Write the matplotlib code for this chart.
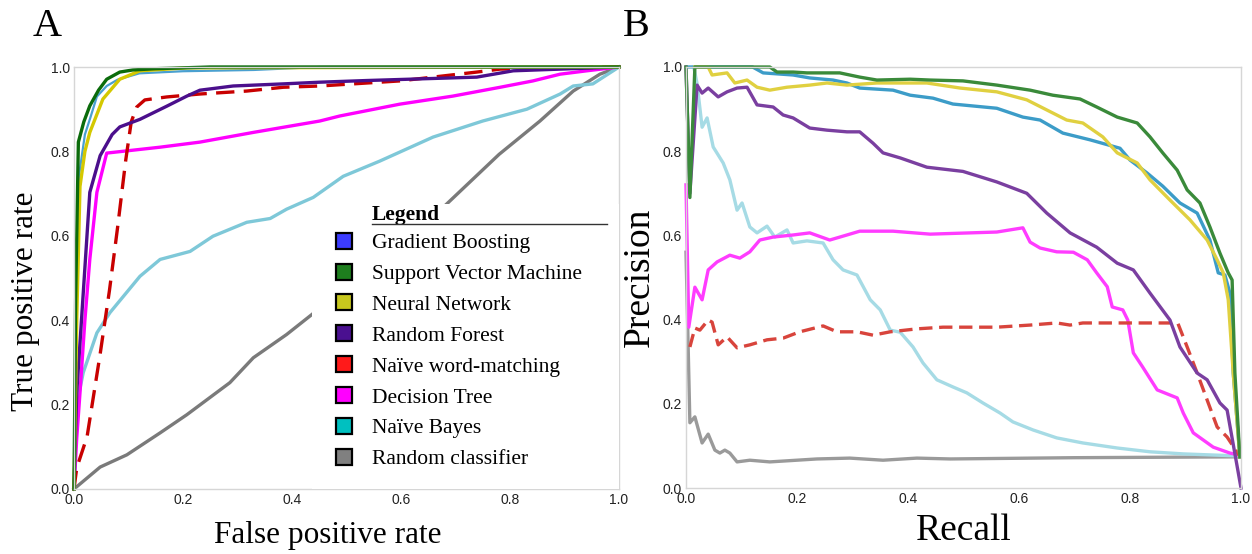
import matplotlib
matplotlib.use("Agg")
import matplotlib.pyplot as plt
from matplotlib.lines import Line2D
from matplotlib.patches import Rectangle

# ---------------- data ----------------
model_names = ["Gradient Boosting", "Support Vector Machine", "Neural Network",
               "Random Forest", "Naïve word-matching", "Decision Tree",
               "Naïve Bayes", "Random classifier"]
legend_colors = ["#3c3cff", "#1e7e1e", "#c8c81e", "#4a1090", "#ff1a1a",
                 "#ff00ff", "#00c0c0", "#808080"]
tick_values = [0.0, 0.2, 0.4, 0.6, 0.8, 1.0]
tick_labels = ["0.0", "0.2", "0.4", "0.6", "0.8", "1.0"]

# Panel A: ROC curves (false positive rate, true positive rate)
gb_fpr = [0, 0.004, 0.01, 0.02, 0.03, 0.042, 0.06, 0.08, 0.12, 0.2, 0.33, 0.45, 1.0]
gb_tpr = [0, 0.5, 0.75, 0.84, 0.88, 0.93, 0.955, 0.97, 0.985, 0.99, 0.993, 1.0, 1.0]
svm_fpr = [0, 0.003, 0.008, 0.018, 0.029, 0.045, 0.06, 0.084, 0.108, 0.15, 0.25, 1.0]
svm_tpr = [0, 0.45, 0.822, 0.87, 0.908, 0.945, 0.971, 0.988, 0.993, 0.996, 1.0, 1.0]
nn_fpr = [0, 0.005, 0.011, 0.02, 0.029, 0.053, 0.084, 0.121, 0.207, 1.0]
nn_tpr = [0, 0.4, 0.717, 0.8, 0.845, 0.924, 0.971, 0.991, 0.998, 1.0]
rf_fpr = [0, 0.005, 0.017, 0.029, 0.048, 0.07, 0.084, 0.121, 0.17, 0.207, 0.231,
          0.292, 0.384, 0.451, 0.538, 0.739, 0.806, 1.0]
rf_tpr = [0, 0.228, 0.465, 0.703, 0.79, 0.84, 0.858, 0.876, 0.907, 0.931, 0.945,
          0.955, 0.96, 0.964, 0.968, 0.976, 0.991, 1.0]
nwm_fpr = [0, 0.005, 0.024, 0.048, 0.065, 0.08, 0.095, 0.105, 0.115, 0.13, 0.17,
           0.231, 0.317, 0.384, 0.451, 0.598, 0.739, 0.782, 1.0]
nwm_tpr = [0, 0.05, 0.124, 0.32, 0.47, 0.62, 0.78, 0.87, 0.905, 0.922, 0.929,
           0.936, 0.943, 0.952, 0.955, 0.967, 0.988, 0.995, 1.0]
dt_fpr = [0, 0.005, 0.011, 0.02, 0.029, 0.042, 0.06, 0.158, 0.231, 0.329, 0.451,
          0.488, 0.598, 0.695, 0.782, 0.842, 0.892, 0.941, 1.0]
dt_tpr = [0, 0.12, 0.228, 0.4, 0.544, 0.703, 0.796, 0.81, 0.822, 0.845, 0.872,
          0.884, 0.912, 0.931, 0.952, 0.967, 0.983, 0.991, 1.0]
nb_fpr = [0, 0.005, 0.017, 0.042, 0.066, 0.121, 0.158, 0.213, 0.255, 0.317, 0.36,
          0.39, 0.439, 0.494, 0.561, 0.659, 0.75, 0.831, 0.892, 0.916, 0.952, 1.0]
nb_tpr = [0, 0.2, 0.276, 0.37, 0.418, 0.504, 0.544, 0.563, 0.599, 0.632, 0.641,
          0.663, 0.691, 0.741, 0.777, 0.834, 0.872, 0.9, 0.936, 0.955, 0.96, 1.0]
rand_fpr = [0, 0.048, 0.097, 0.158, 0.207, 0.286, 0.329, 0.39, 0.436, 0.677,
            0.78, 0.855, 0.916, 0.965, 1.0]
rand_tpr = [0, 0.052, 0.081, 0.133, 0.176, 0.252, 0.311, 0.366, 0.413, 0.667,
            0.793, 0.872, 0.943, 0.983, 1.0]

# Panel B: precision-recall curves (recall, precision)
gb_rec = [0.005, 0.12, 0.139, 0.193, 0.223, 0.265, 0.29, 0.313, 0.373, 0.404, 0.445,
          0.481, 0.56, 0.607, 0.638, 0.679, 0.728, 0.782, 0.8, 0.831, 0.859, 0.89,
          0.921, 0.944, 0.959, 0.971, 0.98, 0.986, 0.998]
gb_prec = [1.0, 1.0, 0.986, 0.981, 0.974, 0.969, 0.962, 0.95, 0.945, 0.933, 0.926,
           0.912, 0.902, 0.881, 0.874, 0.843, 0.827, 0.807, 0.779, 0.748, 0.717, 0.677,
           0.653, 0.589, 0.511, 0.506, 0.463, 0.273, 0.074]
svm_rec = [0.0, 0.007, 0.016, 0.151, 0.164, 0.193, 0.218, 0.277, 0.313, 0.344, 0.404,
           0.44, 0.499, 0.56, 0.62, 0.661, 0.71, 0.74, 0.777, 0.813, 0.836, 0.859,
           0.885, 0.903, 0.926, 0.944, 0.962, 0.977, 0.984, 0.989, 0.998]
svm_prec = [1.0, 0.69, 1.0, 1.0, 0.988, 0.988, 0.986, 0.986, 0.976, 0.969, 0.971,
            0.969, 0.967, 0.957, 0.945, 0.933, 0.924, 0.905, 0.881, 0.867, 0.834, 0.796,
            0.755, 0.708, 0.677, 0.62, 0.558, 0.511, 0.494, 0.273, 0.074]
nn_rec = [0.016, 0.04, 0.047, 0.074, 0.088, 0.11, 0.128, 0.151, 0.182, 0.223, 0.254,
          0.29, 0.344, 0.434, 0.494, 0.56, 0.614, 0.65, 0.686, 0.715, 0.751, 0.777,
          0.813, 0.836, 0.872, 0.908, 0.939, 0.957, 0.968, 0.977, 0.986, 0.998]
nn_prec = [1.0, 1.0, 0.981, 0.986, 0.962, 0.969, 0.952, 0.945, 0.952, 0.957, 0.962,
           0.957, 0.962, 0.962, 0.95, 0.941, 0.922, 0.898, 0.874, 0.867, 0.834, 0.796,
           0.772, 0.732, 0.684, 0.637, 0.589, 0.542, 0.511, 0.447, 0.273, 0.074]
rf_rec = [0.0, 0.007, 0.02, 0.029, 0.04, 0.058, 0.074, 0.092, 0.11, 0.128, 0.157,
          0.175, 0.193, 0.223, 0.254, 0.29, 0.313, 0.337, 0.355, 0.386, 0.434, 0.499,
          0.56, 0.614, 0.65, 0.692, 0.74, 0.777, 0.806, 0.836, 0.872, 0.89, 0.921,
          0.939, 0.962, 0.975, 1.0]
rf_prec = [1.0, 0.70, 0.957, 0.938, 0.95, 0.929, 0.941, 0.95, 0.952, 0.91, 0.905,
           0.886, 0.879, 0.855, 0.85, 0.846, 0.846, 0.819, 0.796, 0.784, 0.762, 0.752,
           0.727, 0.70, 0.653, 0.606, 0.572, 0.534, 0.518, 0.463, 0.399, 0.335, 0.273,
           0.257, 0.202, 0.185, 0.0]
nwm_rec = [0.007, 0.016, 0.025, 0.04, 0.047, 0.058, 0.074, 0.092, 0.115, 0.146, 0.175,
           0.205, 0.247, 0.272, 0.308, 0.337, 0.368, 0.416, 0.463, 0.56, 0.62, 0.668,
           0.692, 0.715, 0.777, 0.886, 0.903, 0.921, 0.939, 0.957, 0.975, 0.998]
nwm_prec = [0.335, 0.38, 0.375, 0.399, 0.394, 0.34, 0.359, 0.333, 0.34, 0.352, 0.356,
            0.371, 0.385, 0.371, 0.371, 0.363, 0.371, 0.378, 0.382, 0.382, 0.387, 0.392,
            0.387, 0.392, 0.392, 0.392, 0.335, 0.273, 0.209, 0.145, 0.121, 0.075]
dt_rec = [0.0, 0.005, 0.016, 0.029, 0.04, 0.056, 0.079, 0.097, 0.115, 0.133, 0.157,
          0.193, 0.223, 0.259, 0.29, 0.313, 0.373, 0.44, 0.56, 0.607, 0.62, 0.638,
          0.668, 0.698, 0.723, 0.74, 0.759, 0.768, 0.787, 0.796, 0.806, 0.823, 0.849,
          0.885, 0.896, 0.914, 0.932, 0.95, 0.98, 0.998]
dt_prec = [0.72, 0.382, 0.477, 0.447, 0.518, 0.537, 0.553, 0.546, 0.561, 0.589, 0.596,
           0.601, 0.606, 0.589, 0.601, 0.61, 0.61, 0.603, 0.608, 0.618, 0.584, 0.57,
           0.561, 0.56, 0.542, 0.511, 0.478, 0.43, 0.423, 0.399, 0.321, 0.287, 0.233,
           0.214, 0.178, 0.131, 0.114, 0.097, 0.083, 0.078]
nb_rec = [0.014, 0.02, 0.029, 0.038, 0.049, 0.067, 0.079, 0.092, 0.101, 0.115, 0.128,
          0.146, 0.16, 0.182, 0.193, 0.218, 0.247, 0.265, 0.283, 0.308, 0.332, 0.35,
          0.368, 0.386, 0.409, 0.427, 0.452, 0.481, 0.506, 0.535, 0.566, 0.589, 0.625,
          0.668, 0.715, 0.777, 0.836, 0.896, 0.957, 0.998]
nb_prec = [1.0, 0.96, 0.857, 0.879, 0.81, 0.772, 0.732, 0.66, 0.677, 0.62, 0.606,
           0.622, 0.596, 0.613, 0.582, 0.587, 0.582, 0.542, 0.518, 0.506, 0.447, 0.423,
           0.375, 0.37, 0.335, 0.297, 0.257, 0.24, 0.226, 0.202, 0.178, 0.157, 0.138,
           0.119, 0.107, 0.095, 0.086, 0.081, 0.078, 0.076]
rand_rec = [0.0, 0.007, 0.016, 0.029, 0.04, 0.052, 0.061, 0.07, 0.079, 0.092, 0.115,
            0.151, 0.236, 0.295, 0.355, 0.416, 0.476, 0.7, 0.998]
rand_prec = [0.56, 0.155, 0.169, 0.107, 0.128, 0.09, 0.083, 0.09, 0.083, 0.062, 0.066,
             0.062, 0.069, 0.071, 0.066, 0.071, 0.069, 0.072, 0.074]

# ---------------- style ----------------
colors_a = {"rand": "#7a7a7a", "nb": "#7ec8d8", "dt": "#ff00ff", "nwm": "#c80000",
            "rf": "#4b0f8c", "gb": "#4aa0d0", "nn": "#d4c800", "svm": "#0b6b0b"}
colors_b = {"rand": "#9a9a9a", "nb": "#a6dbe5", "dt": "#ff3cff", "nwm": "#d8443c",
            "rf": "#7a3fa0", "gb": "#3c9cc8", "nn": "#e0d040", "svm": "#3a8a3a"}

serif = ["Liberation Serif", "DejaVu Serif"]
sans = ["Liberation Sans", "DejaVu Sans"]

fig = plt.figure(figsize=(12.52, 5.54), dpi=100)
ax_a = fig.add_axes([74 / 1252, 1 - 489 / 554, 545 / 1252, 422 / 554])
ax_b = fig.add_axes([686 / 1252, 1 - 488 / 554, 555 / 1252, 421 / 554])


def style_axes(ax):
    ax.set_xlim(0, 1)
    ax.set_ylim(0, 1)
    ax.set_xticks(tick_values)
    ax.set_yticks(tick_values)
    ax.set_xticklabels(tick_labels, family=sans, fontsize=10, color="#222222")
    ax.set_yticklabels(tick_labels, family=sans, fontsize=10, color="#222222")
    ax.tick_params(length=0, pad=3)
    for s in ax.spines.values():
        s.set_color("#d6d6d6")
        s.set_linewidth(1.0)


lw = 2.4
series_a = [("rand", rand_fpr, rand_tpr, "-"), ("nb", nb_fpr, nb_tpr, "-"),
            ("dt", dt_fpr, dt_tpr, "-"), ("nwm", nwm_fpr, nwm_tpr, "--"),
            ("rf", rf_fpr, rf_tpr, "-"), ("gb", gb_fpr, gb_tpr, "-"),
            ("nn", nn_fpr, nn_tpr, "-"), ("svm", svm_fpr, svm_tpr, "-")]
for key, xs, ys, ls in series_a:
    ax_a.plot(xs, ys, color=colors_a[key], lw=lw if key != "gb" else 1.6, ls=ls,
              dashes=(5.5, 2.8) if ls == "--" else (None, None), clip_on=False, zorder=2)

series_b = [("rand", rand_rec, rand_prec, "-"), ("nb", nb_rec, nb_prec, "-"),
            ("dt", dt_rec, dt_prec, "-"), ("nwm", nwm_rec, nwm_prec, "--"),
            ("rf", rf_rec, rf_prec, "-"), ("gb", gb_rec, gb_prec, "-"),
            ("nn", nn_rec, nn_prec, "-"), ("svm", svm_rec, svm_prec, "-")]
for key, xs, ys, ls in series_b:
    ax_b.plot(xs, ys, color=colors_b[key], lw=lw, ls=ls,
              dashes=(4, 2) if ls == "--" else (None, None), clip_on=False, zorder=2)

style_axes(ax_a)
style_axes(ax_b)

ax_a.set_xlabel("False positive rate", family=serif, fontsize=22.5)
ax_a.xaxis.set_label_coords(0.466, -0.077, transform=ax_a.transAxes)
ax_a.xaxis.label.set_va("top")
ax_a.set_ylabel("True positive rate", family=serif, fontsize=22.5)
ax_a.yaxis.set_label_coords(-0.062, 0.445, transform=ax_a.transAxes)
ax_b.set_xlabel("Recall", family=serif, fontsize=27, labelpad=5)
ax_b.set_ylabel("Precision", family=serif, fontsize=27, labelpad=4)

fig.text(47 / 1252, 1 - 27 / 554, "A", family=serif, fontsize=29, ha="center", va="center")
fig.text(636 / 1252, 1 - 27 / 554, "B", family=serif, fontsize=29, ha="center", va="center")

# legend (white panel hides lines beneath it)
ax_a.add_patch(Rectangle((0.437, 0.0), 0.563, 0.675, transform=ax_a.transAxes,
                         facecolor="white", edgecolor="none", zorder=3))
handles = [Line2D([], [], ls="none", marker="s", markersize=11, markerfacecolor=c,
                  markeredgecolor="black", markeredgewidth=1.6) for c in legend_colors]
leg = ax_a.legend(handles, model_names, loc="upper left",
                  bbox_to_anchor=(0.475, 0.606), frameon=False, borderpad=0,
                  borderaxespad=0, handlelength=1.0, handletextpad=0.8,
                  labelspacing=0.50, prop={"family": serif, "size": 15.5})
leg.set_zorder(5)
ax_a.text(0.547, 0.638, "Legend", transform=ax_a.transAxes, family=serif,
          fontsize=15.5, fontweight="bold", ha="left", va="baseline", zorder=5)
ax_a.add_line(Line2D([0.547, 0.978], [0.629, 0.629], transform=ax_a.transAxes,
                     color="#333333", lw=1.0, zorder=5))

fig.savefig("out.png", dpi=100)
